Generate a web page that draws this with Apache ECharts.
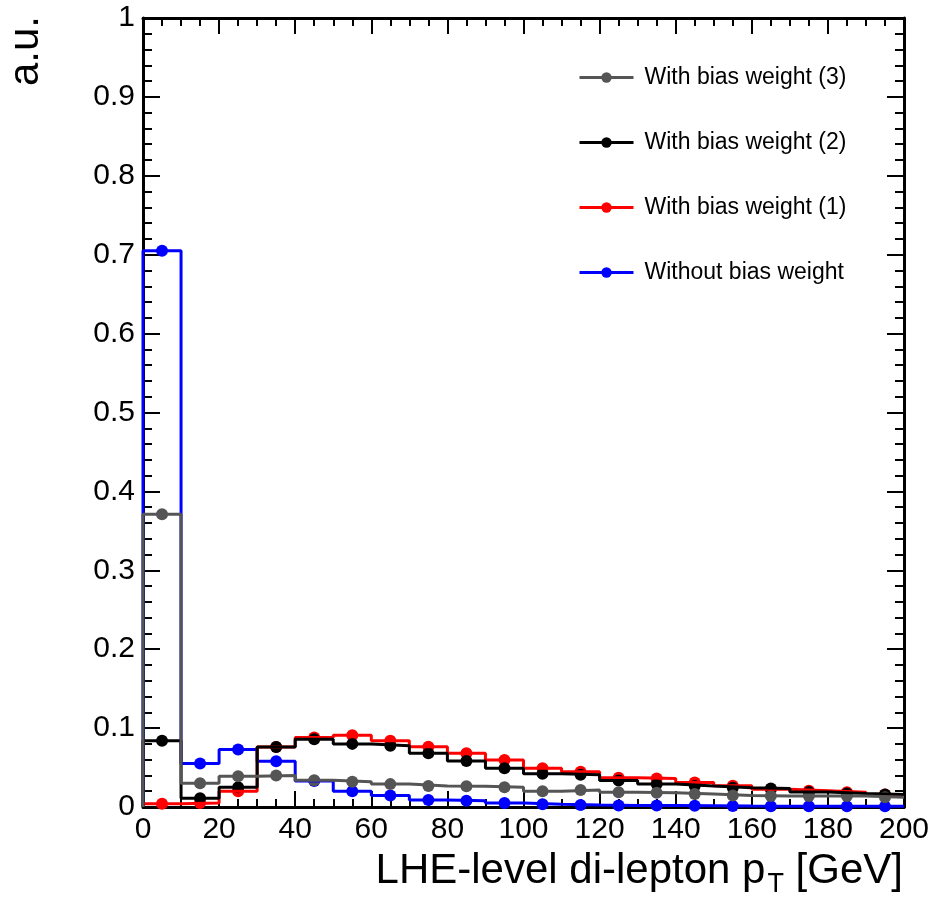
<!DOCTYPE html>
<html>
<head>
<meta charset="utf-8">
<script src="https://cdn.jsdelivr.net/npm/echarts@6/dist/echarts.min.js"></script>
<style>
html,body{margin:0;padding:0;background:#fff;}
#main{width:935px;height:898px;}
</style>
</head>
<body>
<div id="main"></div>
<script>
// bins of LHE di-lepton pT, 10 GeV wide
var binEdges = [0,10,20,30,40,50,60,70,80,90,100,110,120,130,140,150,160,170,180,190,200];
var binCenters = [5,15,25,35,45,55,65,75,85,95,105,115,125,135,145,155,165,175,185,195];

var noBias = [0.705,0.055,0.073,0.058,0.033,0.020,0.0145,0.009,0.008,0.005,0.0035,0.0025,0.002,0.0018,0.0015,0.0012,0.001,0.001,0.0008,0.0008];
var bias1  = [0.004,0.005,0.020,0.076,0.088,0.091,0.084,0.0765,0.068,0.0596,0.049,0.0448,0.037,0.036,0.031,0.027,0.0224,0.0207,0.0186,0.016];
var bias2  = [0.084,0.011,0.025,0.076,0.086,0.080,0.0775,0.068,0.0583,0.049,0.042,0.041,0.0335,0.029,0.0266,0.0245,0.0235,0.019,0.017,0.016];
var bias3  = [0.371,0.030,0.039,0.040,0.034,0.032,0.029,0.0266,0.0262,0.025,0.020,0.0215,0.0186,0.018,0.0165,0.0145,0.014,0.014,0.014,0.0123];

var xTickLabels = ['0','20','40','60','80','100','120','140','160','180','200'];
var yTickLabels = ['0','0.1','0.2','0.3','0.4','0.5','0.6','0.7','0.8','0.9','1'];

var FONT = 'Liberation Sans, Arial, Helvetica, sans-serif';

var myChart = echarts.init(document.getElementById('main'));

// histogram outline: step from bin edges
function stepData(vals){
    var d = [[binEdges[0], 0]];
    for(var i=0;i<vals.length;i++){
        d.push([binEdges[i], vals[i]]);
    }
    d.push([binEdges[binEdges.length-1], vals[vals.length-1]]);
    return d;
}
function pointData(vals){
    var d = [];
    for(var i=0;i<vals.length;i++){
        d.push([binCenters[i], vals[i]]);
    }
    return d;
}

function histSeries(name, vals, color){
    return [{
        name: name,
        type: 'line',
        step: 'end',
        data: stepData(vals),
        symbol: 'circle',
        showSymbol: false,
        silent: true,
        lineStyle: {color: color, width: 3},
        itemStyle: {color: color}
    },{
        name: name + ' pts',
        type: 'scatter',
        data: pointData(vals),
        symbol: 'circle',
        symbolSize: 12,
        silent: true,
        itemStyle: {color: color, opacity: 1}
    }];
}

function xAxisOpt(pos, showLabel){
    return {
        type: 'value',
        position: pos,
        min: 0, max: 200, interval: 20,
        axisLine: {onZero: false, lineStyle: {color: '#000', width: 3}},
        axisTick: {inside: true, length: 16, lineStyle: {color: '#000', width: 2}},
        minorTick: {show: true, splitNumber: 4, length: 8, lineStyle: {color: '#000', width: 2}},
        splitLine: {show: false},
        minorSplitLine: {show: false},
        axisLabel: {
            show: showLabel, fontSize: 30, fontFamily: FONT, color: '#000', margin: 8,
            formatter: function(v){ return xTickLabels[Math.round(v/20)]; }
        }
    };
}
function yAxisOpt(pos, showLabel){
    return {
        type: 'value',
        position: pos,
        min: 0, max: 1, interval: 0.1,
        axisLine: {onZero: false, lineStyle: {color: '#000', width: 3}},
        axisTick: {inside: true, length: 17, lineStyle: {color: '#000', width: 2}},
        minorTick: {show: true, splitNumber: 5, length: 9, lineStyle: {color: '#000', width: 2}},
        splitLine: {show: false},
        minorSplitLine: {show: false},
        axisLabel: {
            show: showLabel, fontSize: 30, fontFamily: FONT, color: '#000', margin: 8,
            formatter: function(v){ return yTickLabels[Math.round(v*10)]; }
        }
    };
}

var series = [].concat(
    histSeries('Without bias weight', noBias, '#0000ff'),
    histSeries('With bias weight (1)', bias1, '#ff0000'),
    histSeries('With bias weight (2)', bias2, '#000000'),
    histSeries('With bias weight (3)', bias3, '#555555')
);

var option = {
    animation: false,
    backgroundColor: '#fff',
    grid: {left: 143, right: 31, top: 18, bottom: 91, containLabel: false},
    title: {
        text: '{a|LHE-level di-lepton p}{s|T}{a| [GeV]}',
        right: 32,
        top: 845,
        padding: 0,
        textStyle: {
            fontWeight: 'normal',
            rich: {
                a: {fontSize: 42, fontWeight: 'normal', fontFamily: FONT, color: '#000'},
                s: {fontSize: 27, fontWeight: 'normal', fontFamily: FONT, color: '#000', padding: [26, 0, 0, 2]}
            }
        }
    },
    legend: {
        data: ['With bias weight (3)', 'With bias weight (2)', 'With bias weight (1)', 'Without bias weight'],
        orient: 'vertical',
        left: 578,
        top: 66,
        padding: 0,
        itemWidth: 54,
        itemHeight: 13,
        itemGap: 42,
        selectedMode: false,
        lineStyle: {width: 3},
        textStyle: {fontSize: 23, fontFamily: FONT, color: '#000', padding: [0, 0, 0, 6]}
    },
    graphic: [{
        type: 'text',
        x: 26,
        y: 16,
        rotation: Math.PI / 2,
        style: {text: 'a.u.', fontSize: 42, fontFamily: FONT, fill: '#000', align: 'right', verticalAlign: 'middle'}
    }],
    xAxis: [xAxisOpt('bottom', true), xAxisOpt('top', false)],
    yAxis: [yAxisOpt('left', true), yAxisOpt('right', false)],
    series: series
};

myChart.setOption(option);
</script>
</body>
</html>
